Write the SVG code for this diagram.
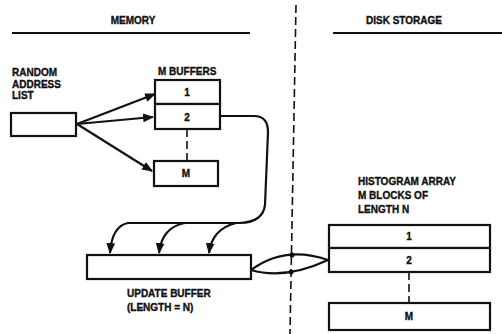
<svg xmlns="http://www.w3.org/2000/svg" width="502" height="334" viewBox="0 0 502 334">
<style>
.t{font-family:"Liberation Sans",Arial,sans-serif;font-weight:bold;font-size:10px;fill:#111;stroke:#111;stroke-width:0.35}
.c{text-anchor:middle}
.box{fill:#fff;stroke:#111;stroke-width:2.2}
.ln{fill:none;stroke:#111;stroke-width:2.2}
.dash{fill:none;stroke:#111;stroke-width:1.6;stroke-dasharray:8,4}
</style>
<defs>
<marker id="ah" viewBox="0 0 10 10" refX="9" refY="5" markerWidth="5" markerHeight="5" orient="auto" markerUnits="strokeWidth">
<path d="M0,1 L10,5 L0,9 z" fill="#111"/>
</marker>
</defs>
<rect width="502" height="334" fill="#fff"/>
<g id="headers">
<text class="t c" x="133" y="24">MEMORY</text>
<line class="ln" x1="12" y1="33" x2="250" y2="33"/>
<text class="t c" x="404" y="24">DISK STORAGE</text>
<line class="ln" x1="333" y1="33" x2="502" y2="33"/>
</g>
<g id="divider">
<line class="dash" x1="296" y1="5" x2="290" y2="334"/>
</g>
<g id="random-address-list">
<text class="t" x="12" y="76">RANDOM</text>
<text class="t" x="12" y="88">ADDRESS</text>
<text class="t" x="12" y="99">LIST</text>
<rect class="box" x="11" y="113" width="65" height="23"/>
</g>
<g id="m-buffers">
<text class="t" x="158" y="75">M BUFFERS</text>
<rect class="box" x="155" y="80" width="65" height="24"/>
<text class="t c" x="187" y="96">1</text>
<rect class="box" x="155" y="104" width="65" height="25"/>
<text class="t c" x="187" y="121">2</text>
<line class="dash" x1="187" y1="129" x2="187" y2="161"/>
<rect class="box" x="154" y="161" width="64" height="25"/>
<text class="t c" x="186" y="177">M</text>
</g>
<g id="update-buffer">
<rect class="box" x="87" y="255" width="164" height="24"/>
<text class="t" x="127" y="297">UPDATE BUFFER</text>
<text class="t" x="127" y="311">(LENGTH = N)</text>
</g>
<g id="histogram-array">
<text class="t" x="358" y="185">HISTOGRAM ARRAY</text>
<text class="t" x="358" y="199">M BLOCKS OF</text>
<text class="t" x="358" y="213">LENGTH N</text>
<rect class="box" x="329" y="225" width="161" height="23"/>
<text class="t c" x="409" y="240">1</text>
<rect class="box" x="329" y="248" width="161" height="24"/>
<text class="t c" x="409" y="264">2</text>
<line class="dash" x1="409" y1="272" x2="409" y2="303"/>
<rect class="box" x="329" y="303" width="161" height="27"/>
<text class="t c" x="409" y="320">M</text>
</g>
<g id="connectors">
<line class="ln" x1="77" y1="124" x2="155" y2="94" marker-end="url(#ah)"/>
<line class="ln" x1="77" y1="124" x2="153" y2="117" marker-end="url(#ah)"/>
<line class="ln" x1="77" y1="124" x2="152" y2="171" marker-end="url(#ah)"/>
<path class="ln" d="M220,116 L254,116 Q268,116 268,132 L265,205 Q263,222 240,223 L128,223 Q112,226 110,253" marker-end="url(#ah)"/>
<path class="ln" d="M185,223 Q162,227 159,253" marker-end="url(#ah)"/>
<path class="ln" d="M236,223 Q212,229 209,253" marker-end="url(#ah)"/>
<path class="ln" d="M251,270 Q285,245 328,260"/>
<path class="ln" d="M251,270 Q285,280 328,260"/>
<circle cx="292" cy="255" r="2.5" fill="#111"/>
<circle cx="291" cy="272" r="2.5" fill="#111"/>
</g>
</svg>
